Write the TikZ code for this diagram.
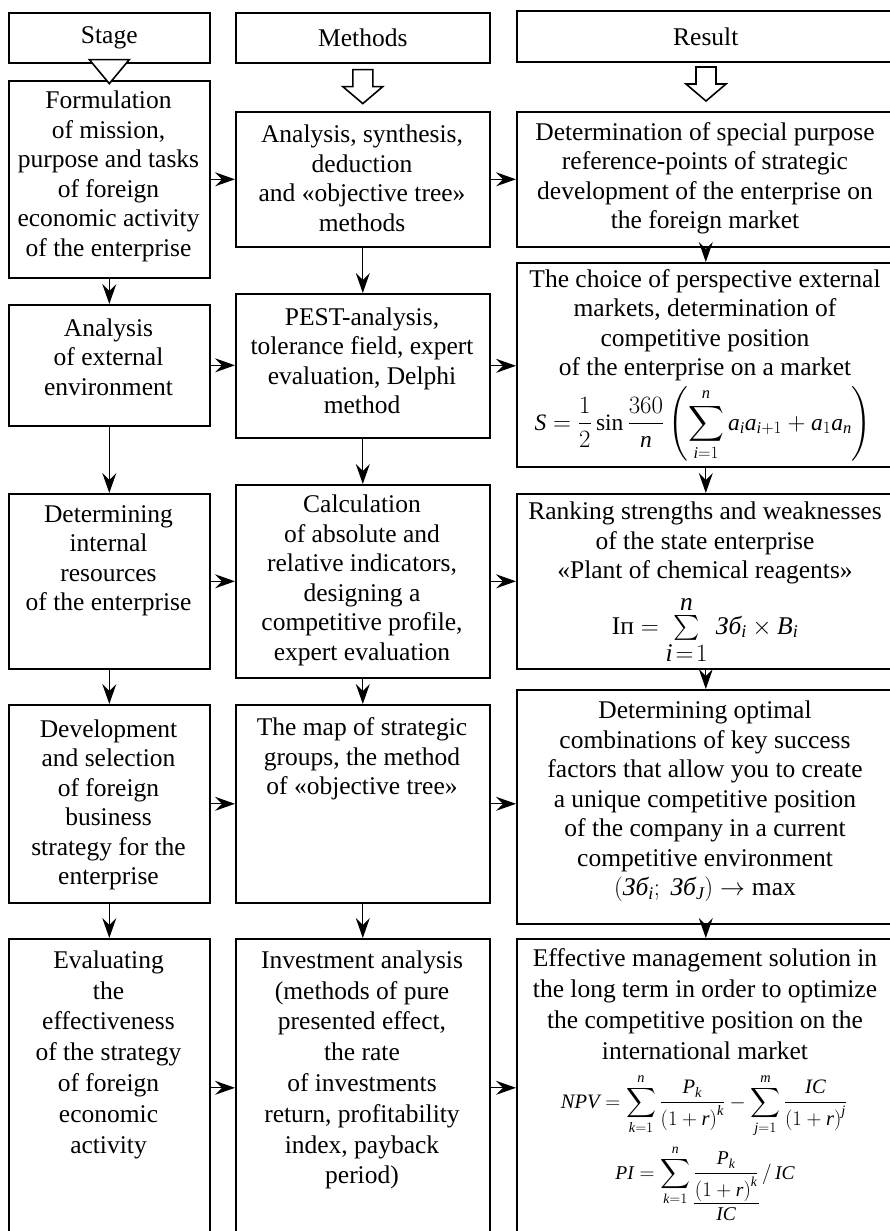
\documentclass[tikz,border=0pt]{standalone}
\usepackage{amsmath}
\usepackage{fontspec}
\setmainfont{Liberation Serif}
\edef\myrmfam{\rmdefault}
\DeclareSymbolFont{letters}{TU}{\myrmfam}{m}{it}
\DeclareSymbolFont{operators}{TU}{\myrmfam}{m}{n}
\usetikzlibrary{arrows.meta}
\begin{document}
\begin{tikzpicture}[x=1pt,y=-1pt,
  box/.style={draw, line width=1.6pt, inner sep=0pt, anchor=north west, align=center,
    font=\fontsize{25.5}{29.5}\selectfont},
  txt/.style={align=center, inner sep=0pt, font=\fontsize{25.5}{29.5}\selectfont},
  txtw/.style={align=center, inner sep=0pt, font=\fontsize{25.5}{30.8}\selectfont},
  frm/.style={inner sep=0pt, anchor=base, font=\fontsize{23.5}{28}\selectfont},
  frms/.style={inner sep=0pt, anchor=base, font=\fontsize{20.5}{24}\selectfont},
  arr/.style={-{Stealth[length=20pt,width=14pt,inset=7pt]}, line width=1.3pt},
  hollow/.style={draw, line width=1.6pt, fill=white, line join=miter}]
\useasboundingbox (0,0) rectangle (889,1231);

% header boxes
\node[box, minimum width=201pt, minimum height=50pt] (sh) at (8,12) {Stage};
\node[box, minimum width=254pt, minimum height=50pt] (mh) at (235,12) {Methods};
\node[box, minimum width=380pt, minimum height=51pt, text width=380pt] (rh) at (516,10) {\hspace*{-2pt}Result};

% stage column
\node[box, minimum width=201pt, minimum height=197pt] (s1) at (8,80) {};
\node[box, minimum width=201pt, minimum height=121pt] (s2) at (8,304) {};
\node[box, minimum width=201pt, minimum height=175pt] (s3) at (8,493) {};
\node[box, minimum width=201pt, minimum height=198pt] (s4) at (8,704) {};
\node[box, minimum width=201pt, minimum height=298pt] (s5) at (8,938) {};

% methods column
\node[box, minimum width=254pt, minimum height=135pt] (m1) at (235,111) {};
\node[box, minimum width=254pt, minimum height=144pt] (m2) at (235,293) {};
\node[box, minimum width=254pt, minimum height=193pt] (m3) at (235,484) {};
\node[box, minimum width=254pt, minimum height=198pt] (m4) at (235,704) {};
\node[box, minimum width=254pt, minimum height=298pt] (m5) at (235,938) {};

% result column
\node[box, minimum width=380pt, minimum height=135pt] (r1) at (516,111) {};
\node[box, minimum width=380pt, minimum height=204pt] (r2) at (516,262) {};
\node[box, minimum width=380pt, minimum height=175pt] (r3) at (516,493) {};
\node[box, minimum width=380pt, minimum height=234pt] (r4) at (516,689) {};
\node[box, minimum width=380pt, minimum height=298pt] (r5) at (516,938) {};

% hollow arrows under headers
\draw[hollow] ([shift={(-20,-4)}]sh.south) -- ++(40,0) -- ++(-20,24) -- cycle;
\draw[hollow] ([shift={(-10,6)}]mh.south) -- ++(20,0) -- ++(0,17) -- ++(10,0)
  -- ++(-20,17) -- ++(-20,-17) -- ++(10,0) -- cycle;
\draw[hollow] (696,67) -- ++(20,0) -- ++(0,17) -- ++(10,0)
  -- ++(-20,17) -- ++(-20,-17) -- ++(10,0) -- cycle;

% texts
\node[txt] (ts1) at (108.5,176.5) {Formulation\\of mission,\\purpose and tasks\\of foreign\\economic activity\\of the enterprise};
\node[txt] (tm1) at (362,178.5) {Analysis, synthesis,\\deduction\\and «objective tree»\\methods};
\node[txt] (tr1) at (705,178.5) {Determination of special purpose\\reference-points of strategic\\development of the enterprise on\\the foreign market};

\node[txt] (ts2) at (108.5,357) {Analysis\\of external\\environment};
\node[txt] (tm2) at (362,361) {PEST-analysis,\\tolerance field, expert\\evaluation, Delphi\\method};
\node[txt] (tr2) at (705,325) {The choice of perspective external\\markets, determination of\\competitive position\\of the enterprise on a market};
\node[frm] (fr2) at (703,430) {$\displaystyle S=\frac{1}{2}\sin\frac{360}{n}\left(\sum_{i=1}^{n}a_{i}a_{i+1}+a_{1}a_{n}\right)$};

\node[txt] (ts3) at (108.5,561) {Determining\\internal\\resources\\of the enterprise};
\node[txt] (tm3) at (362,580.5) {Calculation\\of absolute and\\relative indicators,\\designing a\\competitive profile,\\expert evaluation};
\node[txt] (tr3) at (705,543) {Ranking strengths and weaknesses\\of the state enterprise\\«Plant of chemical reagents»};
\node[frm, font=\fontsize{25.5}{29.5}\selectfont] (fr3) at (705,634) {$\mathrm{I}\mbox{п}=\mathop{\textstyle\sum}\limits_{\mbox{$i\!=\!1$}}^{\mbox{$n$}}\,\mbox{\itshape Зб}_{i}\times B_{i}$};

\node[txt] (ts4) at (108.5,805) {Development\\and selection\\of foreign\\business\\strategy for the\\enterprise};
\node[txt] (tm4) at (362,759) {The map of strategic\\groups, the method\\of «objective tree»};
\node[txt] (tr4) at (705,801.5) {Determining optimal\\combinations of key success\\factors that allow you to create\\a unique competitive position\\of the company in a current\\competitive environment\\$(\mbox{\itshape Зб}_{i};\ \mbox{\itshape Зб}_{J})\rightarrow\mathrm{max}$};

\node[txtw] (ts5) at (108.5,1054.5) {Evaluating\\the\\effectiveness\\of the strategy\\of foreign\\economic\\activity};
\node[txtw] (tm5) at (362,1070) {Investment analysis\\(methods of pure\\presented effect,\\the rate\\of investments\\return, profitability\\index, payback\\period)};
\node[txtw] (tr5) at (705,1004) {Effective management solution in\\the long term in order to optimize\\the competitive position on the\\international market};
\node[frms] (fnpv) at (704,1108) {$\displaystyle NPV=\sum_{k=1}^{n}\frac{P_{k}}{\left(1+r\right)^{k}}-\sum_{j=1}^{m}\frac{IC}{\left(1+r\right)^{j}}$};
\node[frms, font=\fontsize{19.5}{23}\selectfont] (fpi) at (705,1179) {$\displaystyle PI=\sum_{k=1}^{n}\vtop{\halign{\hfil#\hfil\cr$\displaystyle\frac{P_{k}}{\left(1+r\right)^{k}}$\cr\noalign{\kern2pt\hrule height 0.9pt\kern3pt}$IC$\cr}}\,\mathrm{/}\,IC$};

% horizontal arrows
\foreach \i in {1,...,5}{
  \draw[arr] (s\i.east) -- (s\i.east -| m\i.west);
  \draw[arr] (m\i.east) -- (m\i.east -| r\i.west);
}
% vertical arrows
\foreach \a/\b in {1/2,2/3,3/4,4/5}{
  \draw[arr] (s\a.south) -- (s\b.north);
  \draw[arr] (m\a.south) -- (m\b.north);
}
\draw[arr] ([shift={(-1,9)}]r1.south) -- ([xshift=-1pt]r2.north);
\draw[arr] ([xshift=-1pt]r2.south) -- ([xshift=-1pt]r3.north);
\draw[arr] ([xshift=-1pt]r3.south) -- ([xshift=-1pt]r4.north);
\draw[arr] ([shift={(-1,9)}]r4.south) -- ([xshift=-1pt]r5.north);
\end{tikzpicture}
\end{document}
